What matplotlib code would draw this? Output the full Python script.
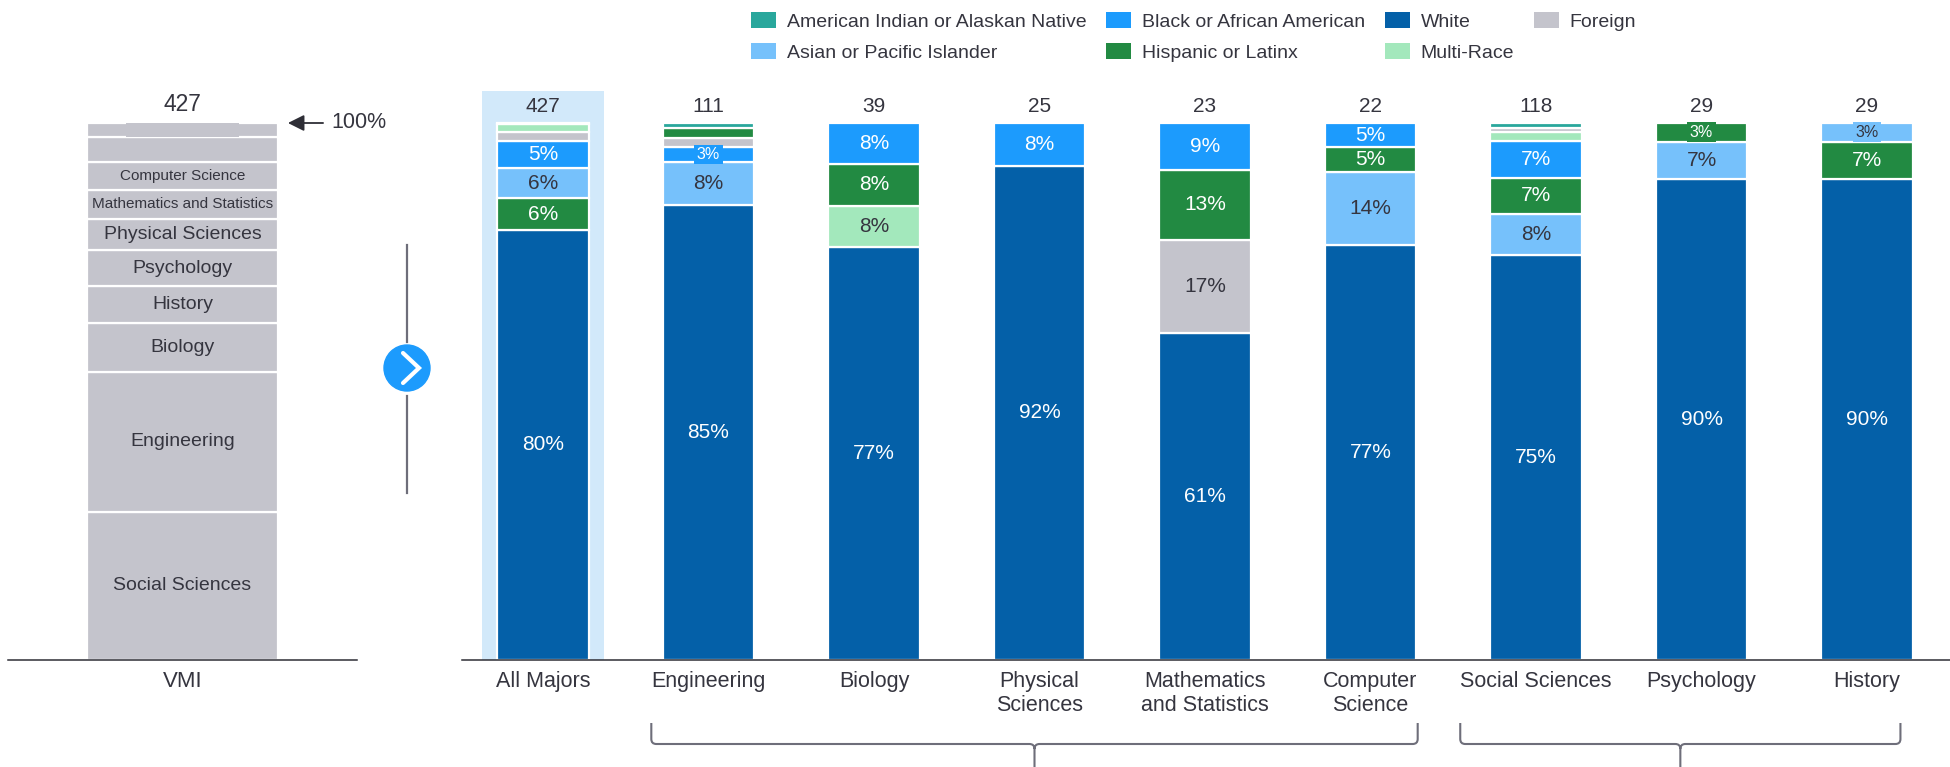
import matplotlib.pyplot as plt
from matplotlib.patches import Patch, Circle, PathPatch
from matplotlib.path import Path

plt.rcParams['font.family'] = ['Liberation Sans', 'DejaVu Sans']

W, H = 1950, 767  # output size in pixels (dpi 100)

# --- data: student counts by race/ethnicity for each major ---
majors = ['All Majors', 'Engineering', 'Biology', 'Physical\nSciences',
          'Mathematics\nand Statistics', 'Computer\nScience', 'Social Sciences',
          'Psychology', 'History']
am_indian = [1, 1, 0, 0, 0, 0, 1, 0, 0]
asian     = [24, 9, 0, 0, 0, 3, 9, 2, 1]
black     = [22, 3, 3, 2, 2, 1, 8, 0, 0]
hispanic  = [25, 2, 3, 0, 3, 1, 8, 1, 2]
white     = [342, 94, 30, 23, 14, 17, 89, 26, 26]
multi     = [6, 0, 3, 0, 0, 0, 2, 0, 0]
foreign   = [7, 2, 0, 0, 4, 0, 1, 0, 0]

races = ['American Indian or Alaskan Native', 'Asian or Pacific Islander',
         'Black or African American', 'Hispanic or Latinx', 'White',
         'Multi-Race', 'Foreign']

# institution-wide breakdown of majors (bottom to top), blanks are unlabeled
vmi_majors = ['Social Sciences', 'Engineering', 'Biology', 'History', 'Psychology',
              'Physical Sciences', 'Mathematics and Statistics', 'Computer Science', '', '']
vmi_counts = [118, 111, 39, 29, 29, 25, 23, 22, 20, 11]

# bracket groups under the x axis (first, last category index)
groups = [(1, 5), (6, 8)]

counts = dict(zip(races, [am_indian, asian, black, hispanic, white, multi, foreign]))
colors = dict(zip(races, ['#29a79c', '#76c1fb', '#1c9bfd', '#228a42',
                          '#0460a8', '#a3e8bc', '#c4c4cc']))
dark_text = {'Asian or Pacific Islander', 'Multi-Race', 'Foreign'}
# tie-break when two groups have the same count (lower = nearer the bottom)
stack_rank = dict(zip(['White', 'Asian or Pacific Islander', 'Multi-Race', 'Foreign',
                       'Hispanic or Latinx', 'Black or African American',
                       'American Indian or Alaskan Native'], range(7)))

TXT = '#35353f'
GRAY = '#c4c4cc'
LINE = '#6e6e7a'


def px_rect(x0, x1, y_top, y_bot):
    """figure-fraction rect from pixel edges (y measured from the top)."""
    return [x0 / W, 1 - y_bot / H, (x1 - x0) / W, (y_bot - y_top) / H]


fig = plt.figure(figsize=(W / 100, H / 100), dpi=100)

# ---------------- main chart ----------------
step = 165.5
ax = fig.add_axes(px_rect(462, 1950, 91, 660))
ax.set_xlim((462 - 543) / step, (1950 - 543) / step)
ax.set_ylim(0, 100 * (660 - 91) / (660 - 123))

totals = [sum(counts[r][i] for r in races) for i in range(len(majors))]

# highlight behind the overall bar
ax.bar(0, ax.get_ylim()[1], width=0.737, color='#d2e9fa', zorder=0)

for i, total in enumerate(totals):
    parts = [(counts[r][i], r) for r in races if counts[r][i] > 0]
    parts.sort(key=lambda p: (-p[0], stack_rank[p[1]]))
    bottom = 0
    for n, r in parts:
        pct = 100 * n / total
        ax.bar(i, pct, bottom=bottom, width=0.55, color=colors[r],
               edgecolor='white', linewidth=1.6, zorder=2)
        if pct >= 2.5:
            tc = TXT if r in dark_text else 'white'
            kw = dict(ha='center', va='center', color=tc, zorder=3)
            if pct < 4:
                kw['fontsize'] = 11.5
                kw['bbox'] = dict(boxstyle='square,pad=0.15', fc=colors[r], ec='none')
            else:
                kw['fontsize'] = 15
            ax.text(i, bottom + pct / 2, f'{pct:.0f}%', **kw)
        bottom += pct
    ax.annotate(f'{total}', (i, 100), xytext=(0, 12), textcoords='offset points',
                ha='center', va='center', fontsize=15, color=TXT)

ax.set_xticks(range(len(majors)), majors)
ax.tick_params(axis='x', length=0, pad=8, labelsize=15.5, labelcolor=TXT)
ax.set_yticks([])
for s in ['top', 'right', 'left']:
    ax.spines[s].set_visible(False)
ax.spines['bottom'].set_color('#2e2e36')
ax.spines['bottom'].set_linewidth(1.1)
ax.patch.set_alpha(0)

# ---------------- VMI overview bar ----------------
axl = fig.add_axes(px_rect(8, 357, 91, 660))
axl.set_xlim(-174.5 / 191, 174.5 / 191)
axl.set_ylim(ax.get_ylim())
vmi_total = sum(vmi_counts)
bottom = 0
for k, (name, n) in enumerate(zip(vmi_majors, vmi_counts)):
    pct = 100 * n / vmi_total
    axl.bar(0, pct, bottom=bottom, width=1, color=GRAY, edgecolor='white', linewidth=1.6)
    mid = bottom + pct / 2
    if name:
        axl.text(0, mid, name, ha='center', va='center', color=TXT,
                 fontsize=14 if n >= 24 else 11)
    elif k == len(vmi_counts) - 1:
        axl.text(0, mid, ' ' * 29, ha='center', va='center', fontsize=10,
                 bbox=dict(boxstyle='square,pad=0', fc=GRAY, ec='none'))
    bottom += pct

axl.annotate(f'{vmi_total}', (0, 100), xytext=(0, 13), textcoords='offset points',
             ha='center', va='center', fontsize=16.5, color=TXT)
axl.annotate('', xy=(0.552, 100), xytext=(0.736, 100),
             arrowprops=dict(arrowstyle='-|>,head_length=0.7,head_width=0.35',
                             color='#2e2e36', lw=1.3, shrinkA=0, shrinkB=0,
                             mutation_scale=14))
axl.text(0.78, 100, '100%', ha='left', va='center', fontsize=15.5, color=TXT)

axl.set_xticks([0], ['VMI'])
axl.tick_params(axis='x', length=0, pad=8, labelsize=16, labelcolor=TXT)
axl.set_yticks([])
for s in ['top', 'right', 'left']:
    axl.spines[s].set_visible(False)
axl.spines['bottom'].set_color('#2e2e36')
axl.spines['bottom'].set_linewidth(1.1)
axl.patch.set_alpha(0)

# ---------------- legend ----------------
handles = [Patch(facecolor=colors[r], edgecolor='none') for r in races]
fig.legend(handles, races, loc='upper left', bbox_to_anchor=(751 / W, 1 - 12 / H),
           ncol=4, frameon=False, fontsize=14, labelcolor=TXT,
           handlelength=1.3, handleheight=0.9, handletextpad=0.55,
           columnspacing=1.0, labelspacing=0.62, borderpad=0, borderaxespad=0)

# ---------------- overlay: drill-down button and group brackets ----------------
ov = fig.add_axes([0, 0, 1, 1])
ov.set_xlim(0, W)
ov.set_ylim(H, 0)
ov.axis('off')
ov.patch.set_alpha(0)

bx, by, br = 407, 368, 23
ov.plot([bx, bx], [245, by - br - 3], color=LINE, lw=1.6)
ov.plot([bx, bx], [by + br + 5, 493], color=LINE, lw=1.6)
ov.add_patch(Circle((bx, by), br, color='#1c9bfd'))
ov.plot([bx - 4, bx + 12, bx - 4], [by - 15, by, by + 15], color='white', lw=3,
        solid_capstyle='round', solid_joinstyle='miter')

fig.canvas.draw()
renderer = fig.canvas.get_renderer()
ticklabels = ax.get_xticklabels()


def bracket(x0, x1, y_top=723, y_bar=744, y_end=767, r=5):
    xm = (x0 + x1) / 2
    M, L, C = Path.MOVETO, Path.LINETO, Path.CURVE3
    verts = [(x0, y_top), (x0, y_bar - r), (x0, y_bar), (x0 + r, y_bar),
             (xm - r, y_bar), (xm, y_bar), (xm, y_bar + r), (xm, y_end),
             (x1, y_top), (x1, y_bar - r), (x1, y_bar), (x1 - r, y_bar),
             (xm + r, y_bar), (xm, y_bar), (xm, y_bar + r)]
    codes = [M, L, C, C, L, C, C, L, M, L, C, C, L, C, C]
    ov.add_patch(PathPatch(Path(verts, codes), fc='none', ec=LINE, lw=1.5))


for a, b in groups:
    x0 = ticklabels[a].get_window_extent(renderer).x0
    x1 = ticklabels[b].get_window_extent(renderer).x1
    bracket(x0, x1)

fig.savefig('out.png', dpi=100)
